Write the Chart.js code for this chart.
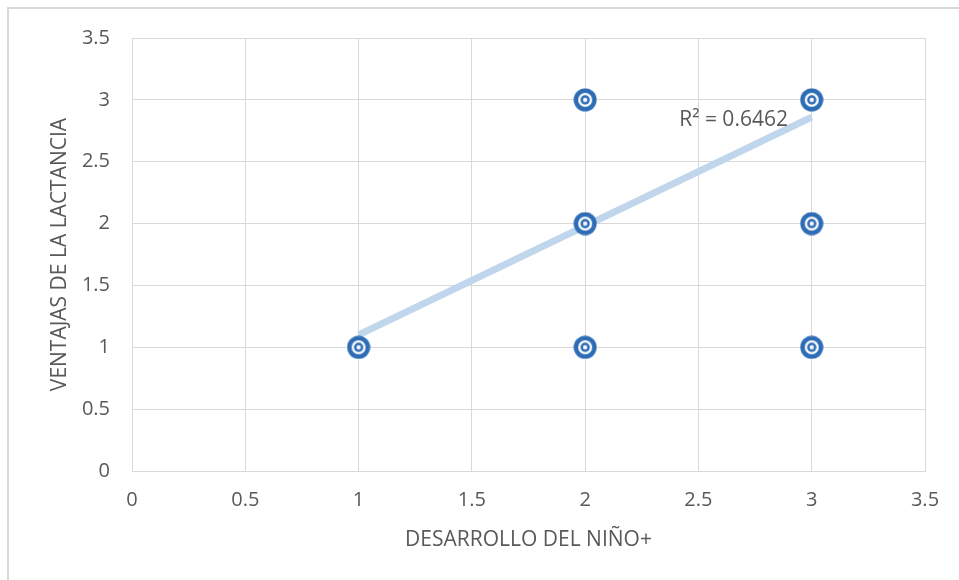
<!DOCTYPE html>
<html>
<head>
<meta charset="utf-8">
<script src="https://cdn.jsdelivr.net/npm/chart.js@4"></script>
<style>
  html, body { margin:0; padding:0; background:#fff; }
  #wrap { width:959px; height:580px; position:relative; }
</style>
</head>
<body>
<div id="wrap"><canvas id="scatterChart" width="959" height="580"></canvas></div>
<script>
// Data
const desarrollo = [1, 2, 2, 2, 3, 3, 3];
const ventajas   = [1, 1, 2, 3, 1, 2, 3];
// Excel linear trendline (end points)
const trendX = [1, 3];
const trendY = [1.1, 2.86];
const r2Label = 'R² = 0.6462';
const r2Pos = { x: 2.895, y: 2.84 };

const axisMin = 0, axisMax = 3.5, axisStep = 0.5;

const gray = '#595959';
const gridGray = '#d9d9d9';
const blue = '#2e6db5';
const trendBlue = '#c0d6ec';
const fontFam = '"Open Sans", "Noto Sans", sans-serif';

// target-style marker: blue ring, white ring, inner blue ring, white center
function makeMarker() {
  const c = document.createElement('canvas');
  c.width = 24; c.height = 24;
  const g = c.getContext('2d');
  const rings = [[11.5, blue], [7, '#fff'], [4.7, blue], [2.2, '#f4f6fa']];
  rings.forEach(([r, col]) => {
    g.beginPath();
    g.arc(12, 12, r, 0, Math.PI * 2);
    g.fillStyle = col;
    g.fill();
  });
  return c;
}
const marker = makeMarker();

// outer frame + R² text
const extras = {
  id: 'extras',
  beforeDraw(chart) {
    const ctx = chart.ctx;
    ctx.save();
    ctx.fillStyle = '#fff';
    ctx.fillRect(0, 0, chart.width, chart.height);
    ctx.strokeStyle = gridGray;
    ctx.lineWidth = 2;
    ctx.beginPath();
    ctx.moveTo(8, chart.height + 5);
    ctx.lineTo(8, 8);
    ctx.lineTo(chart.width + 5, 8);
    ctx.stroke();
    ctx.restore();
  },
  afterDatasetsDraw(chart) {
    const ctx = chart.ctx;
    const xs = chart.scales.x, ys = chart.scales.y;
    ctx.save();
    ctx.font = '21px ' + fontFam;
    ctx.fillStyle = gray;
    ctx.textAlign = 'right';
    ctx.textBaseline = 'middle';
    ctx.fillText(r2Label, xs.getPixelForValue(r2Pos.x), ys.getPixelForValue(r2Pos.y));
    ctx.restore();
  }
};

const ctx = document.getElementById('scatterChart').getContext('2d');
new Chart(ctx, {
  type: 'scatter',
  data: {
    datasets: [
      {
        label: 'Ventajas',
        data: desarrollo.map((x, i) => ({ x: x, y: ventajas[i] })),
        pointStyle: marker,
        pointRadius: 12,
        pointHoverRadius: 12,
        order: 1
      },
      {
        label: 'Tendencia',
        type: 'line',
        data: trendX.map((x, i) => ({ x: x, y: trendY[i] })),
        borderColor: trendBlue,
        borderWidth: 7,
        borderCapStyle: 'butt',
        pointRadius: 0,
        fill: false,
        order: 2
      }
    ]
  },
  options: {
    responsive: false,
    animation: false,
    events: [],
    layout: { padding: { top: 38, right: 34, left: 0, bottom: 0 } },
    plugins: { legend: { display: false }, tooltip: { enabled: false } },
    scales: {
      x: {
        type: 'linear',
        min: axisMin, max: axisMax,
        ticks: { stepSize: axisStep, padding: 17, color: gray, font: { family: fontFam, size: 20 },
                 callback: v => String(+v) },
        grid: { color: gridGray, lineWidth: 1, drawTicks: false },
        border: { color: gridGray },
        title: { display: true, text: 'DESARROLLO DEL NIÑO+', color: gray,
                 font: { family: fontFam, size: 21 }, padding: { bottom: 27 } },
        afterFit(scale) { scale.height = 109; }
      },
      y: {
        type: 'linear',
        min: axisMin, max: axisMax,
        ticks: { stepSize: axisStep, padding: 22, color: gray, font: { family: fontFam, size: 20 },
                 callback: v => String(+v) },
        grid: { color: gridGray, lineWidth: 1, drawTicks: false },
        border: { color: gridGray },
        title: { display: true, text: 'VENTAJAS DE LA LACTANCIA', color: gray,
                 font: { family: fontFam, size: 21 }, padding: { top: 47 } },
        afterFit(scale) { scale.width = 132; }
      }
    }
  },
  plugins: [extras]
});
</script>
</body>
</html>
